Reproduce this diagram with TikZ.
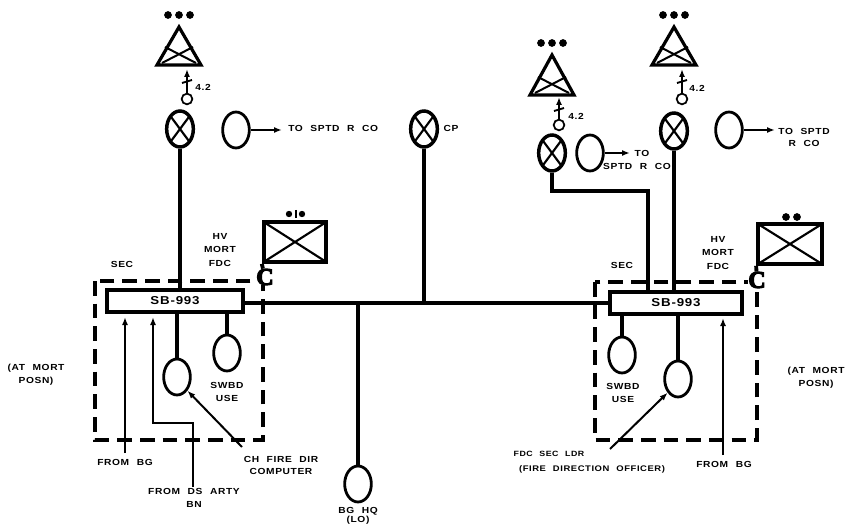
\documentclass[tikz,border=0pt]{standalone}
\usepackage{fontspec}
\usetikzlibrary{calc, positioning}
\usetikzlibrary{arrows.meta}
\usetikzlibrary{shapes.geometric}
\newfontfamily\lblfont[LetterSpace=7,FakeStretch=1.16,WordSpace=2.2]{Liberation Sans Bold}
\newfontfamily\clamfont[FakeBold=5]{Liberation Serif Bold}
\begin{document}
\begin{tikzpicture}[
    x=0.75pt,
    y=-0.75pt,
    lbl/.style={font=\lblfont\fontsize{6.6}{10}\selectfont, align=center, inner sep=0pt},
    small lbl/.style={lbl, font=\lblfont\fontsize{5.7}{10}\selectfont},
    phone/.style={draw, ellipse, line width=2.1pt, minimum width=20pt, minimum height=27pt, inner sep=0pt},
    xphone/.style={phone, line width=2.6pt, path picture={
        \draw[line width=1.6pt] (path picture bounding box.north west) -- (path picture bounding box.south east);
        \draw[line width=1.6pt] (path picture bounding box.north east) -- (path picture bounding box.south west);}},
    swbd/.style={draw, line width=2.8pt, inner sep=0pt, font=\lblfont\fontsize{8.6}{9}\selectfont},
    unit/.style={draw, line width=2.8pt, minimum width=47pt, minimum height=30pt, inner sep=0pt, path picture={
        \draw[line width=1.6pt] (path picture bounding box.north west) -- (path picture bounding box.south east);
        \draw[line width=1.6pt] (path picture bounding box.north east) -- (path picture bounding box.south west);}},
    gun/.style={draw, circle, line width=1.3pt, minimum size=8pt, inner sep=0pt},
    trunk/.style={line width=2.9pt},
    wire/.style={line width=2.4pt},
    feed/.style={line width=1.5pt, -{Latex[length=6pt,width=4.5pt]}},
    secbox/.style={line width=2.7pt, dash pattern=on 11pt off 6pt},
    clam/.style={fill=white, inner sep=0pt, font=\clamfont\fontsize{18}{18}\selectfont}
]
\useasboundingbox (0,0) rectangle (846,524);

% Switchboards and section boxes
\node[swbd, minimum width=102pt, minimum height=17pt] (sbl) at (175,301) {SB-993};
\node[swbd, minimum width=99pt, minimum height=17pt] (sbr) at (676,303) {SB-993};
\draw[secbox] (95,281) rectangle (263,440);
\draw[secbox] (595,282) rectangle (757,440);

% Bus line
\draw[wire] (sbl.east |- sbr.west) -- (sbr.west);

% Phones
\node[xphone] (xl) at (180,129) {};
\node[xphone] (xc) at (424,129) {};
\node[xphone] (xm) at (552,153) {};
\node[xphone] (xr) at (674,131) {};
\node[phone] (ol) at (236,130) {};
\node[phone] (om) at (590,153) {};
\node[phone] (or) at (729,130) {};
\node[phone] (cl) at (177,377) {};
\node[phone] (wl) at (227,353) {};
\node[phone] (wr) at (622,355) {};
\node[phone] (cr) at (678,379) {};
\node[phone] (hq) at (358,484) {};

% Trunks to the switchboards
\draw[trunk] (xl) -- (xl |- sbl.north);
\draw[trunk] (xr) -- (xr |- sbr.north);
\draw[trunk] (xc) -- (xc |- sbr.west);
\draw[wire] (xm) |- (648,191) -- (648,291);
\draw[wire] (hq) -- (hq |- sbr.west);
\draw[trunk] (cl) -- (cl |- sbl.south);
\draw[trunk] (wl) -- (wl |- sbl.south);
\draw[trunk] (wr) -- (wr |- sbr.south);
\draw[trunk] (cr) -- (cr |- sbr.south);

% Weapon symbols
\foreach \P/\Q/\R in {179/27/65, 552/55/95, 674/27/65} {
    \draw[line width=2.4pt, line join=miter] (\P,\Q) -- (\P-22,\R) -- (\P+22,\R) -- cycle;
    \draw[line width=1.5pt] (\P-17,\R-2) -- (\P+14,\R-18);
    \draw[line width=1.5pt] (\P+17,\R-2) -- (\P-14,\R-18);
    \fill (\P-11,\Q-12) circle (2.9pt) (\P,\Q-12) circle (2.9pt) (\P+11,\Q-12) circle (2.9pt);
}
\node[gun] (gl) at (187,99) {};
\node[gun] (gm) at (559,125) {};
\node[gun] (gr) at (682,99) {};
\foreach \G/\Q in {gl/69, gm/97, gr/69} {
    \coordinate (tip) at (\G |- 0,\Q);
    \draw[feed] (\G) -- (tip);
    \draw[line width=1.4pt] ($(tip)+(-5,14)$) -- ($(tip)+(5,11)$);
}

% Fire direction centres
\node[unit] (ul) at (295,242) {};
\node[unit, minimum width=48pt] (ur) at (790,244) {};
\node[clam] (cll) at (265,277) {C};
\node[clam] (clr) at (757,280) {C};
\draw[trunk] (ul.south west) -- (cll);
\draw[trunk] (ur.south west) -- (clr);
\fill (289,214) circle (2.4pt) (302,214) circle (2.4pt);
\draw[line width=1.3pt] (296,210) -- (296,218);
\fill (786,217) circle (2.9pt) (797,217) circle (2.9pt);

% Feeds
\coordinate (fbgl) at (125,453);
\coordinate (fbgr) at (723,455);
\coordinate (fds) at (193,487);
\coordinate (fch) at (242,447);
\coordinate (fdc) at (610,449);
\draw[feed] (fbgl) -- (fbgl |- 0,317);
\draw[feed] (fbgr) -- (fbgr |- 0,318);
\draw[feed] (fds) -- (193,423) -- (153,423) -- (153,317);
\draw[feed] (fch) -- (cl.south east);
\draw[feed] (fdc) -- (cr.south west);
\draw[feed] (ol) -- (282,130);
\draw[feed] (om) -- (630,153);
\draw[feed] (or) -- (775,130);

% Labels
\node[lbl] (t42l) at (203,87) {4.2};
\node[lbl] (t42m) at (576,116) {4.2};
\node[lbl] (t42r) at (697,88) {4.2};
\node[lbl, right] (tsl) at (288,128) {TO SPTD R CO};
\node[lbl] (tcp) at (451,128) {CP};
\node[lbl] (tsm) at (642,153) {TO};
\node[lbl] (tsn) at (637,166) {SPTD R CO};
\node[lbl] (tsr) at (804,137) {TO SPTD\\[-1pt]R CO};
\node[lbl] (hvl) at (220,250) {HV\\MORT\\FDC};
\node[lbl] (hvr) at (718,253) {HV\\MORT\\FDC};
\node[lbl] (secl) at (122,264) {SEC};
\node[lbl] (secr) at (622,265) {SEC};
\node[lbl] (usel) at (227,392) {SWBD\\USE};
\node[lbl] (user) at (623,393) {SWBD\\USE};
\node[lbl] (atl) at (36,375) {(AT MORT\\POSN)};
\node[lbl] (atr) at (816,378) {(AT MORT\\POSN)};
\node[lbl] (bgl) at (125,462) {FROM BG};
\node[lbl] (bgr) at (724,464) {FROM BG};
\node[lbl] (dsa) at (194,498) {FROM DS ARTY\\BN};
\node[lbl] (chf) at (281,465) {CH FIRE DIR\\[-1pt]COMPUTER};
\node[small lbl] (fdl) at (549,454) {FDC SEC LDR};
\node[small lbl, font=\lblfont\fontsize{6.1}{10}\selectfont] (fdo) at (592,469) {(FIRE DIRECTION OFFICER)};
\node[lbl] (hql) at (358,516) {BG HQ\\[-3pt](LO)};
\end{tikzpicture}
\end{document}
